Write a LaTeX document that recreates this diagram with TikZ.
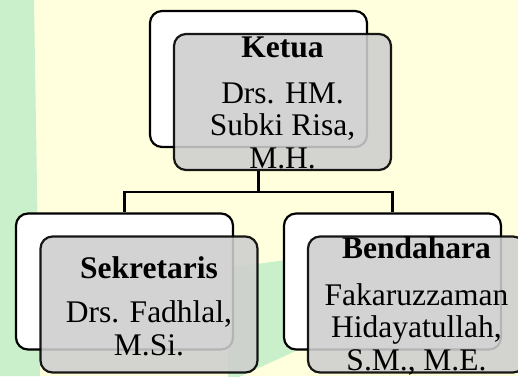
\documentclass[tikz,border=0pt]{standalone}
\usepackage{fontspec}
\setmainfont{Liberation Serif}
\usetikzlibrary{calc}

\definecolor{bgyellow}{RGB}{255,255,221}
\definecolor{bggreen}{RGB}{201,240,203}
\definecolor{boxgray}{RGB}{206,206,206}

\tikzset{
	backbox/.style={draw, line width=2.2pt, fill=white, rounded corners=12pt,
		minimum width=217pt, minimum height=136pt, inner sep=0pt},
	frontbox/.style={draw=black, line width=2.2pt, fill=boxgray, fill opacity=0.88,
		draw opacity=0.9, rounded corners=12pt,
		minimum width=217pt, minimum height=136pt, inner sep=0pt},
	boxtext/.style={anchor=base, align=center, inner sep=0pt,
		font=\fontsize{31.5}{32.5}\selectfont},
	link/.style={line width=2.2pt}
}

\begin{document}
\begin{tikzpicture}[x=1pt, y=-1pt]
		\useasboundingbox (0,0) rectangle (518,376);
		\clip (0,0) rectangle (518,376);
		% background
		\fill[bgyellow] (0,0) rectangle (518,376);
		\fill[bggreen] (0,0) -- (34,0) -- (40,376) -- (0,376) -- cycle;
		\fill[bggreen] (228,268) -- (300,258) -- (300,349) -- (228,382) -- cycle;
		% boxes behind
		\node[backbox] (ketuaback) at (258.5,79) {};
		\node[backbox] (sekback)   at (124.5,281.5) {};
		\node[backbox] (benback)   at (392.5,281.5) {};
		% boxes in front
		\node[frontbox] (ketua) at (282.5,102) {};
		\node[frontbox] (sek)   at (149,304.5) {};
		\node[frontbox] (ben)   at (416.5,304.5) {};
		% texts (placed at the baseline of their last line)
		\node[boxtext] (ketuatext) at (282.5,168)
			{\textbf{Ketua}\\[13.5pt] Drs. HM.\\ Subki Risa,\\ M.H.};
		\node[boxtext] (sektext) at (149,355)
			{\textbf{Sekretaris}\\[12pt] Drs. Fadhlal,\\ M.Si.};
		\node[boxtext] (bentext) at (416.5,370)
			{\textbf{Bendahara}\\[14pt] Fakaruzzaman\\ Hidayatullah,\\ S.M., M.E.};
		% links
		\coordinate (split) at ($(ketuaback.south |- ketua.south)+(0,21)$);
		\draw[link] (ketuaback.south |- ketua.south) -- (split) -| (sekback.north);
		\draw[link] (split) -| (benback.north);
	\end{tikzpicture}
\end{document}
